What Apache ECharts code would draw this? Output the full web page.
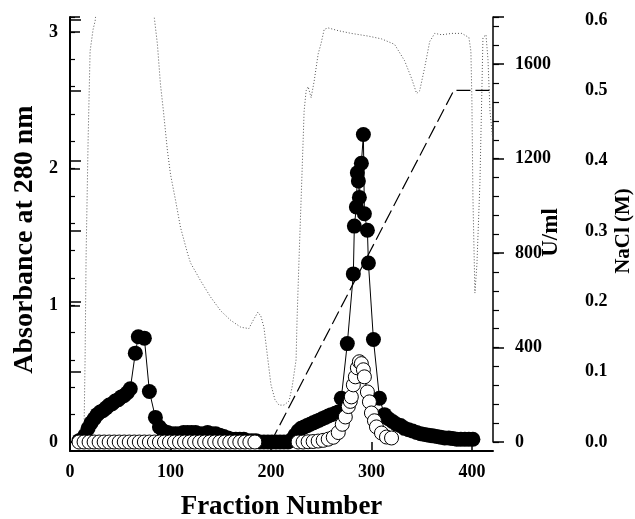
<!DOCTYPE html>
<html>
<head>
<meta charset="utf-8">
<script src="https://cdn.jsdelivr.net/npm/echarts@6.0.0/dist/echarts.min.js"></script>
<style>
  html, body { margin: 0; padding: 0; background: #fff; }
  #chart { width: 635px; height: 519px; }
</style>
</head>
<body>
<div id="chart"></div>
<script>
// absorbance at 280 nm of the collected fractions (filled circles)
const absorbance = [
  [9, 0.01], [12, 0.02], [15, 0.05], [18, 0.1], [21, 0.14], [24, 0.17], [27, 0.2], [30, 0.22],
  [33, 0.23], [36, 0.25], [39, 0.27], [42, 0.28], [45, 0.3], [48, 0.31], [51, 0.33], [54, 0.34],
  [57, 0.36], [60, 0.39], [65, 0.65], [68, 0.77], [74, 0.76], [79, 0.37], [85, 0.18], [89, 0.11],
  [93, 0.08], [97, 0.07], [101, 0.06], [105, 0.06], [109, 0.06], [113, 0.07], [117, 0.07], [121, 0.07],
  [125, 0.07], [129, 0.06], [133, 0.06], [137, 0.07], [141, 0.06], [145, 0.06], [149, 0.05], [153, 0.04],
  [157, 0.03], [161, 0.02], [165, 0.02], [169, 0.02], [173, 0.02], [177, 0.01], [181, 0.01], [185, 0.01],
  [189, 0], [193, 0], [197, 0], [201, 0], [205, 0], [209, 0], [213, 0], [217, 0],
  [221, 0.02], [224, 0.05], [227, 0.08], [230, 0.1], [233, 0.11], [236, 0.12], [239, 0.13], [242, 0.14],
  [245, 0.15], [248, 0.16], [251, 0.17], [254, 0.18], [257, 0.19], [260, 0.2], [264, 0.21], [267, 0.22],
  [270, 0.32], [276, 0.72], [282, 1.23], [283, 1.58], [285, 1.72], [286, 1.97], [287, 1.91], [288, 1.79],
  [290, 2.04], [292, 2.25], [293, 1.67], [296, 1.55], [297, 1.31], [302, 0.75], [308, 0.32], [313, 0.2],
  [317, 0.17], [321, 0.15], [325, 0.13], [329, 0.12], [333, 0.1], [337, 0.09], [341, 0.08], [345, 0.07],
  [349, 0.06], [353, 0.055], [357, 0.05], [361, 0.045], [365, 0.04], [369, 0.035], [373, 0.03], [377, 0.03],
  [381, 0.025], [385, 0.02], [389, 0.02], [393, 0.02], [397, 0.02], [401, 0.02]
];

// enzyme activity, U/ml (open circles)
const activity = [
  [9, 0], [14, 0], [19, 0], [24, 0], [29, 0], [34, 0], [39, 0], [44, 0], [49, 0], [54, 0],
  [59, 0], [64, 0], [69, 0], [74, 0], [79, 0], [84, 0], [89, 0], [94, 0], [99, 0], [104, 0],
  [109, 0], [114, 0], [119, 0], [124, 0], [129, 0], [134, 0], [139, 0], [144, 0], [149, 0], [154, 0],
  [159, 0], [164, 0], [169, 0], [174, 0], [179, 0], [184, 0],
  [227, 0], [232, 0], [237, 1], [242, 2], [247, 4], [252, 7], [257, 12], [262, 20], [267, 40],
  [271, 75], [274, 106], [277, 150], [279, 172], [280, 191], [282, 242], [284, 276], [286, 314],
  [288, 340], [290, 332], [292, 306], [293, 276], [296, 212], [298, 170], [300, 123], [303, 90],
  [305, 64], [310, 38], [315, 21], [320, 17]
];

// continuous absorbance monitor trace (dotted), runs off scale at the top
const monitor = [
  [14, 0.1], [15, 0.6], [16, 1.35], [18, 2.2], [20, 2.86], [23, 3.02], [25, 3.08], [28, 3.3],
  [82, 3.3], [84, 3.1], [87, 2.91], [90, 2.62], [93, 2.42], [97, 2.13], [100, 1.96], [105, 1.77],
  [110, 1.57], [117, 1.38], [120, 1.31], [130, 1.18], [140, 1.06], [150, 0.96], [160, 0.89], [170, 0.84],
  [178, 0.83], [183, 0.9], [187, 0.95], [190, 0.92], [193, 0.84], [197, 0.6], [200, 0.42], [204, 0.31],
  [208, 0.27], [213, 0.27], [218, 0.3], [221, 0.4], [223, 0.5], [225, 0.6], [226, 0.9], [228, 1.35],
  [230, 1.77], [232, 2.2], [233, 2.42], [235, 2.57], [237, 2.6], [240, 2.52], [243, 2.64], [247, 2.84],
  [250, 2.92], [253, 3.02], [257, 3.03], [267, 3.01], [280, 2.99], [297, 2.97], [310, 2.95], [323, 2.91],
  [333, 2.79], [340, 2.66], [345, 2.55], [348, 2.57], [353, 2.74], [358, 2.93], [363, 2.99], [370, 2.98],
  [380, 2.99], [390, 2.99], [397, 2.96], [399, 2.86], [400, 2.5], [401, 1.8], [403, 1.09], [405, 1.3],
  [408, 1.9], [410, 2.6], [411, 2.96], [414, 2.98], [416, 2.8], [418, 2.42], [420, 2.27], [421, 2.2]
];

// NaCl gradient, M (dashed)
const nacl = [[200, 0], [382, 0.5], [421, 0.5]];

const xMax = 421;
const absMax = 3.11;
const unitMax = 1800;

const font = 'Liberation Serif, Times New Roman, serif';
const labelStyle = { color: '#000', fontFamily: font, fontWeight: 'bold', fontSize: 18 };
const nameStyle = size => ({ color: '#000', fontFamily: font, fontWeight: 'bold', fontSize: size });
const blackLine = w => ({ show: true, lineStyle: { color: '#000', width: w } });

const chart = echarts.init(document.getElementById('chart'));

chart.setOption({
  animation: false,
  backgroundColor: '#fff',
  grid: [
    { left: 70, right: 142, top: 17, bottom: 77, containLabel: false, outerBoundsMode: 'none' },
    { left: 70, right: 142, top: 20, bottom: 77, containLabel: false, outerBoundsMode: 'none' },
    { left: 70, right: 142, top: 17, bottom: 68, containLabel: false, outerBoundsMode: 'none' }
  ],
  xAxis: [
    {
      gridIndex: 0, type: 'value', min: 0, max: xMax, interval: 100,
      axisLine: { show: false },
      axisTick: { show: true, inside: false, length: 9, lineStyle: { color: '#000', width: 1.5 } },
      axisLabel: Object.assign({ margin: 21, showMaxLabel: false }, labelStyle),
      splitLine: { show: false },
      name: 'Fraction Number', nameLocation: 'middle', nameGap: 52,
      nameTextStyle: nameStyle(27), nameMoveOverlap: false
    },
    { gridIndex: 1, type: 'value', min: 0, max: xMax, show: false },
    {
      gridIndex: 2, type: 'value', min: 0, max: xMax, position: 'top',
      axisLine: blackLine(2), axisTick: { show: false }, axisLabel: { show: false },
      splitLine: { show: false }
    }
  ],
  yAxis: [
    {
      gridIndex: 0, type: 'value', min: 0, max: absMax, interval: 1, position: 'left',
      axisLine: { show: false },
      axisTick: { show: true, inside: true, length: 10, lineStyle: { color: '#000', width: 1.5 } },
      axisLabel: Object.assign({
        margin: 12,
        formatter: v => (Math.abs(v - Math.round(v)) < 1e-6 ? String(Math.round(v)) : '')
      }, labelStyle),
      splitLine: { show: false },
      name: 'Absorbance at 280 nm', nameLocation: 'middle', nameGap: 31,
      nameTextStyle: Object.assign(nameStyle(28), { padding: [0, 20, 0, 0] }), nameMoveOverlap: false
    },
    {
      gridIndex: 0, type: 'value', min: 0, max: absMax, interval: 0.2, position: 'left',
      axisLine: { show: false },
      axisTick: { show: true, inside: true, length: 5, lineStyle: { color: '#000', width: 1.2 } },
      axisLabel: { show: false }, splitLine: { show: false }
    },
    {
      gridIndex: 0, type: 'value', min: 0, max: unitMax, interval: 400, position: 'right',
      axisLine: blackLine(1.5),
      axisTick: { show: true, inside: false, length: 11, lineStyle: { color: '#000', width: 1.5 } },
      axisLabel: Object.assign({
        margin: 22,
        formatter: v => (v % 400 === 0 ? String(v) : '')
      }, labelStyle),
      splitLine: { show: false },
      name: 'U/ml', nameLocation: 'middle', nameGap: 47,
      nameTextStyle: Object.assign(nameStyle(23), { padding: [0, 6, 0, 0] }), nameMoveOverlap: false
    },
    {
      gridIndex: 0, type: 'value', min: 0, max: unitMax, interval: 80, position: 'right',
      axisLine: { show: false },
      axisTick: { show: true, inside: false, length: 6, lineStyle: { color: '#000', width: 1.2 } },
      axisLabel: { show: false }, splitLine: { show: false }
    },
    {
      gridIndex: 1, type: 'value', min: 0, max: 0.6, interval: 0.1, position: 'right', offset: 70,
      axisLine: blackLine(1.5),
      axisTick: { show: true, inside: false, length: 11, lineStyle: { color: '#000', width: 1.5 } },
      axisLabel: Object.assign({ margin: 22, formatter: v => v.toFixed(1) }, labelStyle),
      splitLine: { show: false },
      name: 'NaCl (M)', nameLocation: 'middle', nameGap: 50,
      nameTextStyle: nameStyle(21), nameMoveOverlap: false
    },
    {
      gridIndex: 2, type: 'value', min: 0, max: 1, position: 'left',
      axisLine: blackLine(2), axisTick: { show: false }, axisLabel: { show: false },
      splitLine: { show: false }
    }
  ],
  series: [
    {
      name: 'monitor', type: 'line', xAxisIndex: 0, yAxisIndex: 0, data: monitor,
      showSymbol: false, symbol: 'none', clip: true, z: 1,
      lineStyle: { color: '#555', width: 1, type: [1, 2] }
    },
    {
      name: 'NaCl', type: 'line', xAxisIndex: 1, yAxisIndex: 4, data: nacl,
      showSymbol: false, symbol: 'none', clip: true, z: 2,
      lineStyle: { color: '#000', width: 1.2, type: [14, 5] }
    },
    {
      name: 'A280', type: 'line', xAxisIndex: 0, yAxisIndex: 0, data: absorbance,
      symbol: 'circle', symbolSize: 15, z: 3,
      itemStyle: { color: '#000', borderColor: '#000', borderWidth: 0 },
      lineStyle: { color: '#000', width: 1 }
    },
    {
      name: 'U/ml', type: 'line', xAxisIndex: 0, yAxisIndex: 2, data: activity,
      symbol: 'circle', symbolSize: 14, z: 4,
      itemStyle: { color: '#fff', borderColor: '#000', borderWidth: 1 },
      lineStyle: { color: '#000', width: 1 }
    }
  ]
});
</script>
</body>
</html>
